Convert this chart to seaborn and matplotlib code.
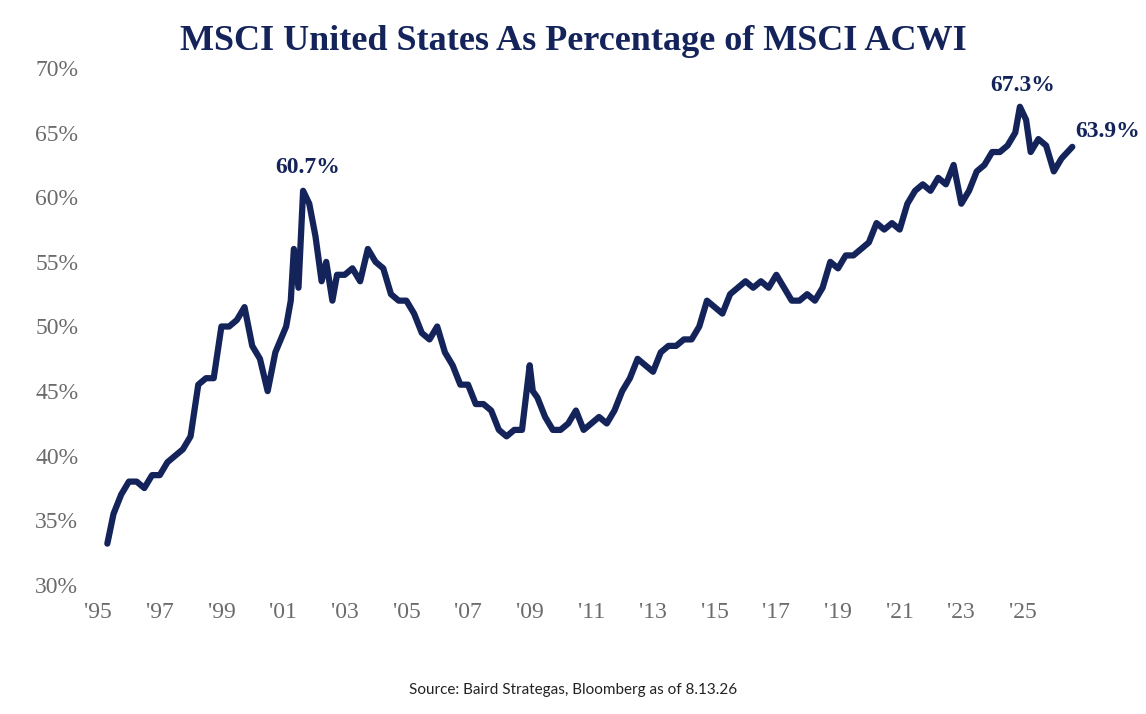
import numpy as np
import pandas as pd
import matplotlib
matplotlib.use("Agg")
import matplotlib.pyplot as plt
import seaborn as sns

sns.set_theme(style="white")
plt.rcParams["font.family"] = ["Liberation Serif", "DejaVu Serif"]

years = [1995.3, 1995.5, 1995.75, 1996, 1996.25, 1996.5, 1996.75, 1997, 1997.25, 1997.5, 1997.75,
         1998, 1998.25, 1998.5, 1998.75, 1999, 1999.25, 1999.5, 1999.75, 2000, 2000.25, 2000.5, 2000.75,
         2001.1, 2001.25, 2001.35, 2001.5, 2001.65, 2001.85, 2002.05, 2002.25, 2002.4, 2002.6, 2002.75,
         2003, 2003.25, 2003.5, 2003.75, 2004, 2004.25, 2004.5, 2004.75, 2005, 2005.25, 2005.5, 2005.75,
         2006, 2006.25, 2006.5, 2006.75, 2007, 2007.25, 2007.5, 2007.75, 2008, 2008.25, 2008.5, 2008.75,
         2008.9, 2009, 2009.1, 2009.25, 2009.5, 2009.75, 2010, 2010.25, 2010.5, 2010.75, 2011, 2011.25,
         2011.5, 2011.75, 2012, 2012.25, 2012.5, 2012.75, 2013, 2013.25, 2013.5, 2013.75, 2014, 2014.25,
         2014.5, 2014.75, 2015, 2015.25, 2015.5, 2015.75, 2016, 2016.25, 2016.5, 2016.75, 2017, 2017.25,
         2017.5, 2017.75, 2018, 2018.25, 2018.5, 2018.75, 2019, 2019.25, 2019.5, 2019.75, 2020, 2020.25,
         2020.5, 2020.75, 2021, 2021.25, 2021.5, 2021.75, 2022, 2022.25, 2022.5, 2022.75, 2023, 2023.25,
         2023.5, 2023.75, 2024, 2024.25, 2024.5, 2024.75, 2024.9, 2025.1, 2025.25, 2025.5, 2025.75,
         2026, 2026.25, 2026.6]
share = [33.2, 35.5, 37, 38, 38, 37.5, 38.5, 38.5, 39.5, 40, 40.5,
         41.5, 45.5, 46, 46, 50, 50, 50.5, 51.5, 48.5, 47.5, 45, 48,
         50, 52, 56, 53, 60.5, 59.5, 57, 53.5, 55, 52,
         54, 54, 54.5, 53.5, 56, 55, 54.5, 52.5, 52, 52, 51, 49.5, 49,
         50, 48, 47, 45.5, 45.5, 44, 44, 43.5, 42, 41.5, 42, 42,
         45, 47, 45, 44.5, 43, 42, 42, 42.5, 43.5, 42, 42.5, 43,
         42.5, 43.5, 45, 46, 47.5, 47, 46.5, 48, 48.5, 48.5, 49, 49,
         50, 52, 51.5, 51, 52.5, 53, 53.5, 53, 53.5, 53, 54, 53,
         52, 52, 52.5, 52, 53, 55, 54.5, 55.5, 55.5, 56, 56.5, 58,
         57.5, 58, 57.5, 59.5, 60.5, 61, 60.5, 61.5, 61, 62.5, 59.5, 60.5,
         62, 62.5, 63.5, 63.5, 64, 65, 67, 66, 63.5, 64.5, 64,
         62, 63, 63.9]
tick_years = list(range(1995, 2027, 2))
tick_labels = ["'%02d" % (y % 100) for y in tick_years]
y_ticks = [30, 35, 40, 45, 50, 55, 60, 65, 70]

navy = "#14245a"
grey = "#6b6b6b"
df = pd.DataFrame({"year": years, "share": share})

fig = plt.figure(figsize=(11.46, 7.14), dpi=100)
ax = fig.add_axes([95 / 1146, 1 - 585 / 714, 995 / 1146, 517 / 714])
sns.lineplot(data=df, x="year", y="share", color=navy, linewidth=4.5, ax=ax)

ax.set_xlim(1994.9, 1994.9 + 995 / 30.83)
ax.set_ylim(30, 70)
ax.set_xticks(tick_years)
ax.set_xticklabels(tick_labels, fontsize=17, color=grey)
ax.set_yticks(y_ticks)
ax.set_yticklabels([f"{v}%" for v in y_ticks], fontsize=17, color=grey)
ax.tick_params(length=0, pad=12)
ax.set_xlabel("")
ax.set_ylabel("")
sns.despine(ax=ax, left=True, bottom=True)

ax.annotate("60.7%", (2001.8, 61.5), ha="center", va="bottom", fontsize=17,
            fontweight="bold", color=navy)
ax.annotate("67.3%", (2025.0, 67.8), ha="center", va="bottom", fontsize=17,
            fontweight="bold", color=navy)
ax.annotate("63.9%", (2026.7, 64.3), ha="left", va="bottom", fontsize=17,
            fontweight="bold", color=navy, annotation_clip=False)

fig.text(0.5, 1 - 42 / 714, "MSCI United States As Percentage of MSCI ACWI",
         ha="center", va="center", fontsize=26, fontweight="bold", color=navy)
fig.text(0.5, 1 - 690 / 714, "Source: Baird Strategas, Bloomberg as of 8.13.26",
         ha="center", va="center", fontsize=11, color="#222222", family=["Lato", "DejaVu Sans"])

fig.savefig("out.png", dpi=100)
